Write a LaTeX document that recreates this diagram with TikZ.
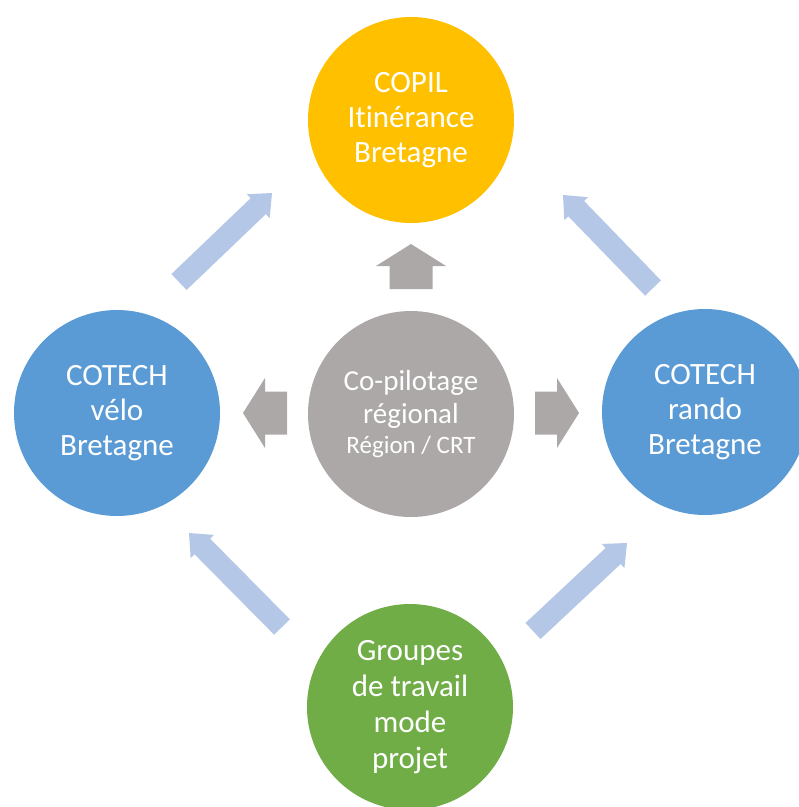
\documentclass[tikz,border=0pt]{standalone}
\usepackage{fontspec}
\setmainfont{Carlito}[Ligatures=NoCommon]
\usetikzlibrary{calc}
\definecolor{cYellow}{HTML}{FFC000}
\definecolor{cBlue}{HTML}{5B9BD5}
\definecolor{cGray}{HTML}{ABA8A7}
\definecolor{cGreen}{HTML}{70AD47}
\definecolor{cLight}{HTML}{B4C7E7}
% #1 colour, #2 tail coordinate, #3 tip coordinate, #4 shaft half width, #5 head half width, #6 head length
\newcommand\blockarr[6]{%
  \coordinate (#2-#3-b) at ($(#3)!#6!(#2)$);
  \fill[#1] ($(#2)!#4!90:(#3)$) -- ($(#2-#3-b)!#4!-90:(#2)$) -- ($(#2-#3-b)!#5!-90:(#2)$)
    -- (#3) -- ($(#2-#3-b)!#5!90:(#2)$) -- ($(#2-#3-b)!#4!90:(#2)$) -- ($(#2)!#4!-90:(#3)$) -- cycle;}
\begin{document}
\begin{tikzpicture}[x=1pt,y=-1pt,
  bubble/.style={circle,inner sep=0pt,minimum size=206pt,text=white,align=center,
    font=\fontsize{31}{35}\selectfont}]
\useasboundingbox (0,0) rectangle (799,807);
\clip (0,0) rectangle (799,807);
\node[bubble,fill=cYellow] (copil) at (411,120) {COPIL\\Itinérance\\Bretagne};
\node[bubble,fill=cBlue] (velo) at (117,413) {COTECH\\vélo\\Bretagne};
\node[bubble,fill=cBlue] (rando) at (705,412) {COTECH\\rando\\Bretagne};
\node[bubble,fill=cGray,font=\fontsize{29}{33}\selectfont] (copilot) at (411,414) {Co-pilotage\\régional\\[-3pt]{\fontsize{25}{27}\selectfont Région / CRT}};
\node[bubble,fill=cGreen,font=\fontsize{31}{36}\selectfont] (groupes) at (410,707) {Groupes\\de travail\\mode\\projet};
% gray arrows from the co-pilotage circle
\coordinate (upT) at (411,289);   \coordinate (upH) at (411,244);
\coordinate (lfT) at (287,413);   \coordinate (lfH) at (243,413);
\coordinate (rtT) at (535,413);   \coordinate (rtH) at (579,413);
\blockarr{cGray}{upT}{upH}{21.5pt}{35pt}{22pt}
\blockarr{cGray}{lfT}{lfH}{21.5pt}{35pt}{22pt}
\blockarr{cGray}{rtT}{rtH}{21.5pt}{35pt}{22pt}
% light blue diagonal arrows
\coordinate (ulT) at (179,282);   \coordinate (ulH) at (272,193);
\coordinate (urT) at (653,288);   \coordinate (urH) at (563,195);
\coordinate (llT) at (282,627);   \coordinate (llH) at (189,533);
\coordinate (lrT) at (533,631);   \coordinate (lrH) at (627,543);
\blockarr{cLight}{ulT}{ulH}{11pt}{16.5pt}{19pt}
\blockarr{cLight}{urT}{urH}{11pt}{16.5pt}{19pt}
\blockarr{cLight}{llT}{llH}{11pt}{16.5pt}{19pt}
\blockarr{cLight}{lrT}{lrH}{11pt}{16.5pt}{19pt}
\end{tikzpicture}
\end{document}
